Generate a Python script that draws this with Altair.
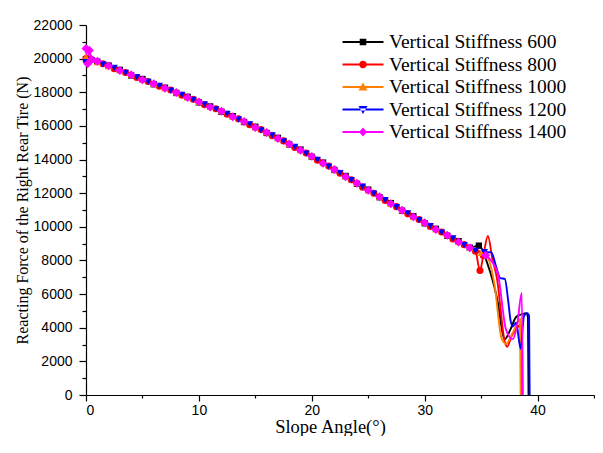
import altair as alt
import pandas as pd

SERIES = ["Vertical Stiffness 600", "Vertical Stiffness 800", "Vertical Stiffness 1000",
          "Vertical Stiffness 1200", "Vertical Stiffness 1400"]
COLORS = ["#000000", "#FF0000", "#FF8000", "#0000FF", "#FF00FF"]
SHAPES = ["square", "circle", "triangle-up", "triangle-down", "diamond"]
SIZES = [40, 50, 50, 50, 80]

LINE_PATH = "M-2.05,-0.09H2.05V0.09H-2.05Z"
LEGEND_SHAPES = [
    LINE_PATH + "M-0.33,-0.33H0.33V0.33H-0.33Z",
    LINE_PATH + "M0.38,0A0.38,0.38 0 1,1 -0.38,0A0.38,0.38 0 1,1 0.38,0Z",
    LINE_PATH + "M0,-0.45L0.45,0.35H-0.45Z",
    LINE_PATH + "M0,0.45L0.45,-0.35H-0.45Z",
    LINE_PATH + "M0,-0.45L0.4,0L0,0.45L-0.4,0Z",
]

X_INT = [0, 1, 2, 3, 4, 5, 6, 7, 8, 9, 10, 11, 12, 13, 14, 15, 16, 17, 18, 19, 20,
         21, 22, 23, 24, 25, 26, 27, 28, 29, 30, 31, 32, 33, 34]
X_HALF = [0, 0.5, 1.5, 2.5, 3.5, 4.5, 5.5, 6.5, 7.5, 8.5, 9.5, 10.5, 11.5, 12.5, 13.5,
          14.5, 15.5, 16.5, 17.5, 18.5, 19.5, 20.5, 21.5, 22.5, 23.5, 24.5, 25.5,
          26.5, 27.5, 28.5, 29.5, 30.5, 31.5, 32.5, 33.5, 34.5]
X_START = [0, 0.15, 0.3, 0.5]

# Vertical Stiffness 600 (black)
X_600 = X_INT + [34.8, 35.6, 36.4, 37.1, 37.6, 38.1, 38.6, 39.0, 39.15, 39.2]
Y_600 = [19950, 19820, 19590, 19330, 19000, 18790, 18480, 18270, 17960, 17730, 17400,
         17160, 16840, 16580, 16230, 15950, 15580, 15290, 14900, 14590, 14160, 13820,
         13380, 13020, 12560, 12210, 11760, 11410, 10960, 10630, 10210, 9880, 9470,
         9150, 8760,
         8880, 7730, 5790, 3320, 3900, 4640, 4800, 4870, 4600, 0]

# Vertical Stiffness 800 (red)
X_800 = X_HALF + [34.9, 35.2, 35.6, 36.0, 36.4, 37.1, 37.3, 37.7, 38.2, 38.5, 38.55]
Y_800 = [20000, 19950, 19700, 19400, 19180, 18880, 18640, 18360, 18130, 17820, 17580,
         17260, 17020, 16690, 16420, 16070, 15780, 15410, 15110, 14720, 14390, 13960,
         13610, 13180, 12800, 12360, 12000, 11560, 11200, 10770, 10430, 10020, 9690,
         9280, 8940, 8550,
         7400, 8300, 9450, 8100, 6950, 3150, 2870, 3500, 4000, 4200, 0]

# Vertical Stiffness 1000 (orange)
X_1000 = X_INT + [35.0, 35.6, 36.2, 36.8, 37.2, 37.8, 38.3, 38.45, 38.5]
Y_1000 = [20100, 19790, 19550, 19310, 19040, 18750, 18510, 18240, 17990, 17690, 17430,
          17130, 16870, 16550, 16260, 15910, 15610, 15250, 14930, 14550, 14190, 13780,
          13410, 12980, 12590, 12170, 11790, 11370, 10990, 10590, 10240, 9840, 9500,
          9100, 8750,
          8450, 8150, 6500, 3400, 3050, 3700, 4400, 4500, 0]

# Vertical Stiffness 1200 (blue)
X_1200 = X_HALF + [35.3, 35.9, 36.3, 36.7, 37.1, 37.4, 37.6, 37.8, 38.1, 38.5, 38.8,
                   39.1, 39.25, 39.3]
Y_1200 = [19800, 19900, 19660, 19450, 19150, 18910, 18620, 18390, 18100, 17850, 17550,
          17290, 16990, 16720, 16390, 16100, 15740, 15440, 15080, 14750, 14360, 13990,
          13590, 13200, 12780, 12390, 11970, 11590, 11170, 10800, 10400, 10050, 9660,
          9310, 8910, 8580,
          8500, 8480, 7700, 6950, 6900, 5600, 4470, 4070, 4300, 2750, 4700, 4870, 4700, 0]

# Vertical Stiffness 1400 (magenta)
X_1400 = X_START + X_INT[1:] + [35.4, 36.0, 36.5, 37.2, 37.8, 38.2, 38.6, 38.7]
Y_1400 = [20600, 19700, 20500, 19950,
          19850, 19570, 19290, 19040, 18750, 18510, 18240, 17990, 17690, 17430, 17130,
          16870, 16550, 16260, 15910, 15610, 15250, 14930, 14550, 14190, 13780, 13410,
          12980, 12590, 12170, 11790, 11370, 10990, 10590, 10240, 9840, 9500, 9100, 8750,
          8310, 7900, 7160, 3900, 3320, 4200, 6070, 0]

XS = [X_600, X_800, X_1000, X_1200, X_1400]
YS = [Y_600, Y_800, Y_1000, Y_1200, Y_1400]

X_MAJOR = [0, 10, 20, 30, 40]
X_MINOR = [5, 15, 25, 35, 45]
Y_MAJOR = [0, 2000, 4000, 6000, 8000, 10000, 12000, 14000, 16000, 18000, 20000, 22000]
Y_MINOR = [1000, 3000, 5000, 7000, 9000, 11000, 13000, 15000, 17000, 19000, 21000]

rows = []
for name, xs, ys in zip(SERIES, XS, YS):
    for x, y in zip(xs, ys):
        rows.append({"series": name, "x": x, "y": y})
df = pd.DataFrame(rows)

xscale = alt.Scale(domain=[0, 45], nice=False, zero=False)
yscale = alt.Scale(domain=[0, 22000], nice=False)
cscale = alt.Scale(domain=SERIES, range=COLORS)

base = alt.Chart(df)

layers = []
for i, (name, col) in enumerate(zip(SERIES, COLORS)):
    if i == 0:
        xe = alt.X("x:Q", scale=xscale,
                   axis=alt.Axis(values=X_MAJOR, title="Slope Angle(°)", tickSize=6,
                                 labelPadding=2, titlePadding=0, titleFontSize=18.5,
                                 titleX=244, orient="bottom"))
        ye = alt.Y("y:Q", scale=yscale,
                   axis=alt.Axis(values=Y_MAJOR,
                                 title="Reacting Force of the Right Rear Tire (N)",
                                 format="d", tickSize=7, labelPadding=7, titlePadding=3,
                                 titleFontSize=16, orient="left"))
    else:
        xe = alt.X("x:Q", axis=None)
        ye = alt.Y("y:Q", axis=None)
    layers.append(
        base.mark_line(interpolate="monotone", strokeWidth=1.9, color=col)
        .transform_filter(f"datum.series == '{name}'")
        .encode(x=xe, y=ye)
    )

for name, col, shp, sz in zip(SERIES, COLORS, SHAPES, SIZES):
    layers.append(
        base.mark_point(filled=True, shape=shp, size=sz, color=col, opacity=1)
        .transform_filter(f"datum.series == '{name}' && datum.x <= 35.5")
        .encode(x=alt.X("x:Q", axis=None), y=alt.Y("y:Q", axis=None))
    )

leg = alt.Legend(title=None, orient="none", legendX=267, legendY=7, padding=0,
                 symbolSize=400, symbolStrokeWidth=0, labelFont="Liberation Serif",
                 labelFontSize=19.5, labelOffset=16, rowPadding=2.5, labelColor="black",
                 labelLimit=400, symbolOpacity=1)

legend_layer = base.mark_point(filled=True, strokeWidth=0, opacity=1).transform_filter(
    "false"
).encode(
    x=alt.X("x:Q", axis=alt.Axis(values=X_MINOR, labels=False, title=None, tickSize=3,
                                 domain=False, orient="bottom")),
    y=alt.Y("y:Q", axis=alt.Axis(values=Y_MINOR, labels=False, title=None, tickSize=4,
                                 domain=False, orient="left")),
    color=alt.Color("series:N", scale=cscale, legend=leg),
    shape=alt.Shape("series:N", scale=alt.Scale(domain=SERIES, range=LEGEND_SHAPES),
                    legend=leg),
)
layers.append(legend_layer)

chart = alt.layer(*layers).resolve_axis(
    x="independent", y="independent"
).properties(
    width=587, height=428,
    autosize=alt.AutoSizeParams(type="fit", contains="padding"),
    padding={"left": 6, "top": 10, "right": 0, "bottom": 0},
).configure_view(stroke=None).configure_axis(
    grid=False, domainColor="black", tickColor="black", labelColor="black",
    titleColor="black", domainWidth=1.2, tickWidth=1.2,
    labelFont="Liberation Sans", labelFontSize=14,
    titleFont="Liberation Serif", titleFontSize=17, titleFontWeight="normal",
)

chart.save("out.html", embed_options={"renderer": "svg", "actions": False})
